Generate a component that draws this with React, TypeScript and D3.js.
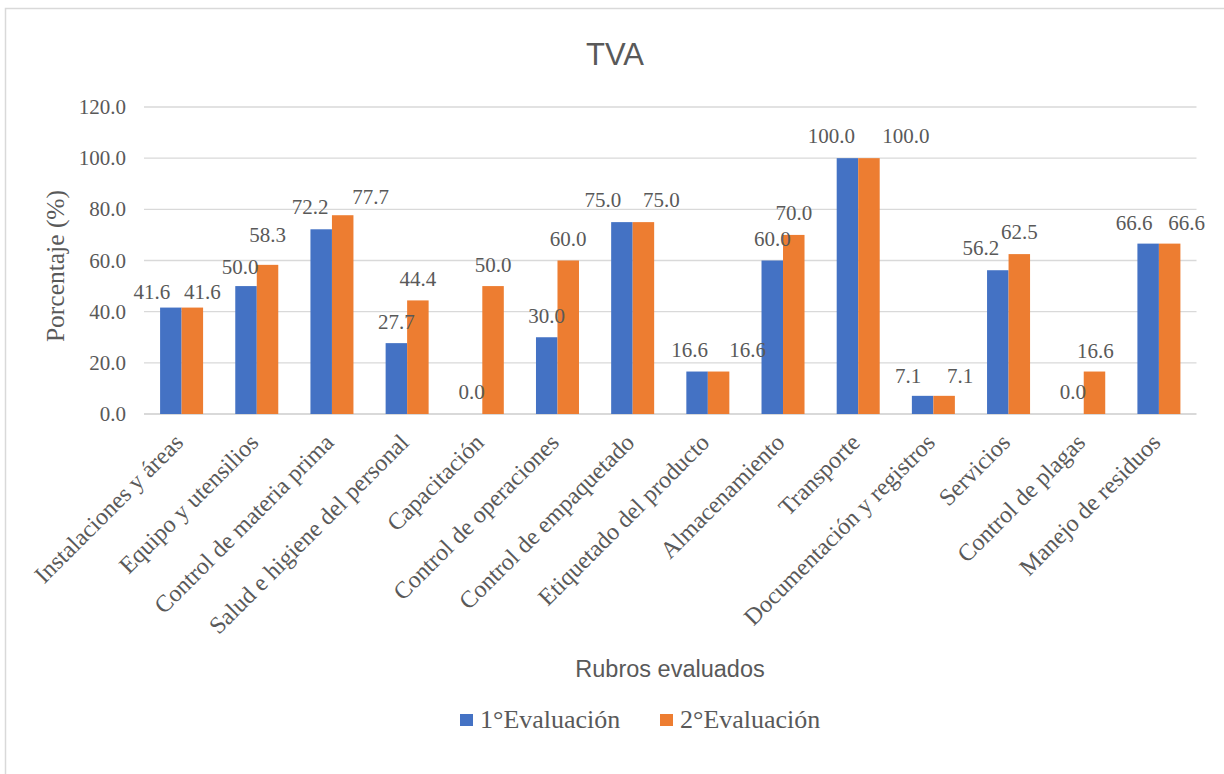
import React from "react";
import * as d3 from "d3";

// Categories and values for the two evaluation rounds
const categories = [
  "Instalaciones y áreas",
  "Equipo y utensilios",
  "Control de materia prima",
  "Salud e higiene del personal",
  "Capacitación",
  "Control de operaciones",
  "Control de empaquetado",
  "Etiquetado del producto",
  "Almacenamiento",
  "Transporte",
  "Documentación y registros",
  "Servicios",
  "Control de plagas",
  "Manejo de residuos",
];
const seriesNames = ["1°Evaluación", "2°Evaluación"];
const evaluacion1 = [41.6, 50.0, 72.2, 27.7, 0.0, 30.0, 75.0, 16.6, 60.0, 100.0, 7.1, 56.2, 0.0, 66.6];
const evaluacion2 = [41.6, 58.3, 77.7, 44.4, 50.0, 60.0, 75.0, 16.6, 70.0, 100.0, 7.1, 62.5, 16.6, 66.6];
const yTicks = [0, 20, 40, 60, 80, 100, 120];

// Hand-placed data-label offsets [dx, dy] (px) relative to the default spot above each bar
const labelNudge1 = [
  [-19, 5.5], [-6, 2.5], [-11, -1], [0, 0], [0, -1], [0, 0], [-19, -0.5],
  [-7.5, 0], [0, 0], [-16, -1], [-14.5, 1.5], [-17, -1], [0, -1], [-14, 0.5],
];
const labelNudge2 = [
  [10, 5.5], [0, -8.5], [28, 3], [0, 0], [0, 0], [0, 0], [18, -0.5],
  [29, 0], [0, 0], [37, -1], [16, 1.5], [0, -1], [1, 0.5], [17, 0.5],
];

const W = 1224;
const H = 774;
const plot = { left: 144, right: 1196.5, top: 107, bottom: 414 };
const colors = ["#4472C4", "#ED7D31"];
const textColor = "#595959";
const gridColor = "#d9d9d9";
const serif = "'Liberation Serif', 'Times New Roman', serif";
const sans = "'Liberation Sans', Arial, sans-serif";

export default function App() {
  const x0 = d3
    .scaleBand<string>()
    .domain(categories)
    .range([plot.left, plot.right])
    .paddingInner(0.428)
    .paddingOuter(0.214);
  const x1 = d3.scaleBand<string>().domain(seriesNames).range([0, x0.bandwidth()]);
  const y = d3.scaleLinear().domain([0, 120]).range([plot.bottom, plot.top]);

  const series = [
    { name: seriesNames[0], values: evaluacion1, nudge: labelNudge1, color: colors[0] },
    { name: seriesNames[1], values: evaluacion2, nudge: labelNudge2, color: colors[1] },
  ];

  const fmt = d3.format(".1f");

  return (
    <svg
      width={W}
      height={H}
      style={{ position: "absolute", left: 0, top: 0, background: "#fff" }}
    >
      {/* chart frame */}
      <rect x={5.5} y={8.5} width={W + 20} height={H + 20} fill="#fff" stroke={gridColor} strokeWidth={1.5} />

      {/* title */}
      <text x={615} y={65} textAnchor="middle" fontFamily={sans} fontSize={31} fill={textColor}>
        TVA
      </text>

      {/* gridlines + y tick labels */}
      {yTicks.map((t) => (
        <g key={t}>
          <line
            x1={plot.left}
            x2={plot.right}
            y1={y(t)}
            y2={y(t)}
            stroke={gridColor}
            strokeWidth={t === 0 ? 1.8 : 1.3}
          />
          <text
            x={126}
            y={y(t) + 7}
            textAnchor="end"
            fontFamily={serif}
            fontSize={21}
            fill={textColor}
          >
            {fmt(t)}
          </text>
        </g>
      ))}

      {/* bars */}
      {series.map((s) => (
        <g key={s.name}>
          {categories.map((c, i) => (
            <rect
              key={c}
              x={(x0(c) as number) + (x1(s.name) as number)}
              y={y(s.values[i])}
              width={x1.bandwidth()}
              height={y(0) - y(s.values[i])}
              fill={s.color}
            />
          ))}
        </g>
      ))}

      {/* data labels */}
      {series.map((s) => (
        <g key={s.name + "-labels"}>
          {categories.map((c, i) => (
            <text
              key={c}
              x={(x0(c) as number) + (x1(s.name) as number) + x1.bandwidth() / 2 + s.nudge[i][0]}
              y={y(s.values[i]) - 14.5 + s.nudge[i][1]}
              textAnchor="middle"
              fontFamily={serif}
              fontSize={21}
              fill={textColor}
            >
              {fmt(s.values[i])}
            </text>
          ))}
        </g>
      ))}

      {/* category labels */}
      {categories.map((c) => {
        const cx = (x0(c) as number) + x0.bandwidth() / 2 + 3;
        const cy = plot.bottom + 30;
        return (
          <text
            key={c}
            transform={`translate(${cx},${cy}) rotate(-45)`}
            textAnchor="end"
            fontFamily={serif}
            fontSize={24}
            fill={textColor}
          >
            {c}
          </text>
        );
      })}

      {/* axis titles */}
      <text
        transform={`translate(64,266) rotate(-90)`}
        textAnchor="middle"
        fontFamily={serif}
        fontSize={25.5}
        fill={textColor}
      >
        Porcentaje (%)
      </text>
      <text x={670} y={677} textAnchor="middle" fontFamily={sans} fontSize={23.5} fill={textColor}>
        Rubros evaluados
      </text>

      {/* legend */}
      {series.map((s, k) => (
        <g key={s.name + "-legend"} transform={`translate(${460 + k * 200},714)`}>
          <rect x={0} y={0} width={13} height={12} fill={s.color} />
          <text x={20} y={13.5} fontFamily={serif} fontSize={26} fill={textColor}>
            {s.name}
          </text>
        </g>
      ))}
    </svg>
  );
}
